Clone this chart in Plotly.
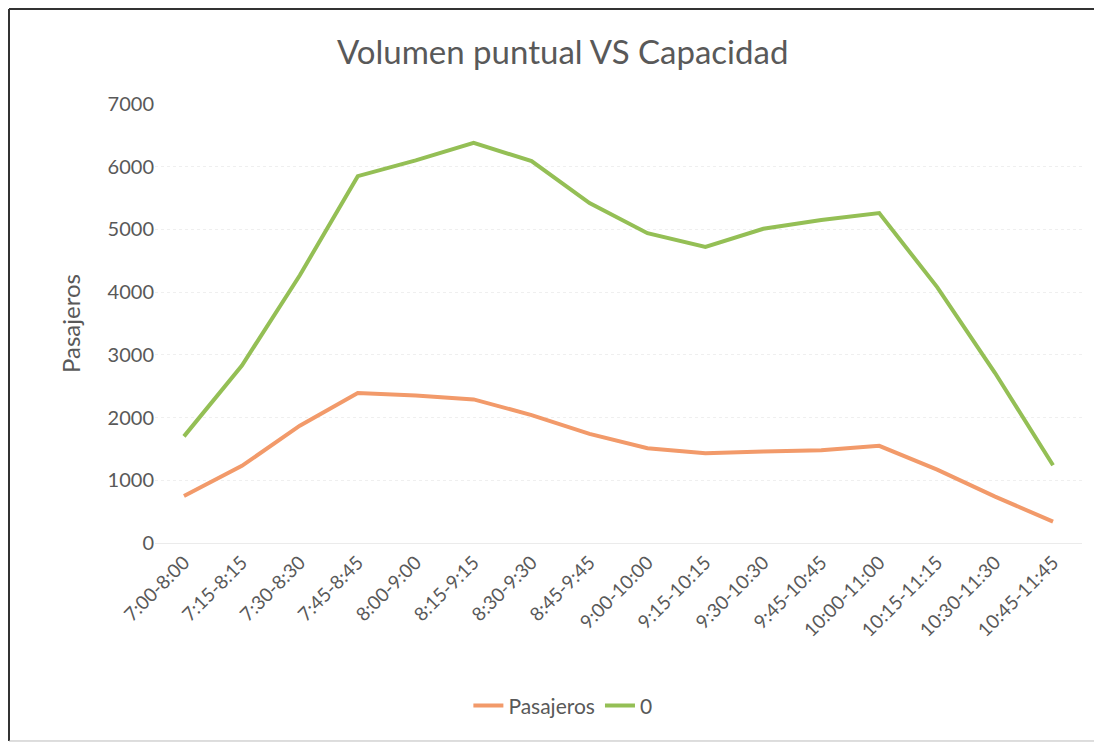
import plotly.graph_objects as go

FRANJAS = ['7:00-8:00', '7:15-8:15', '7:30-8:30', '7:45-8:45', '8:00-9:00',
           '8:15-9:15', '8:30-9:30', '8:45-9:45', '9:00-10:00', '9:15-10:15',
           '9:30-10:30', '9:45-10:45', '10:00-11:00', '10:15-11:15',
           '10:30-11:30', '10:45-11:45']
PASAJEROS = [750, 1230, 1870, 2390, 2350, 2290, 2040, 1740, 1510, 1430,
             1460, 1480, 1550, 1170, 740, 340]
CAPACIDAD = [1700, 2830, 4270, 5850, 6100, 6380, 6090, 5420, 4940, 4720,
             5010, 5150, 5260, 4080, 2710, 1240]
TICKS_Y = [0, 1000, 2000, 3000, 4000, 5000, 6000, 7000]

GRIS = '#595959'
FUENTE = 'Lato'

fig = go.Figure()
fig.add_trace(go.Scatter(x=FRANJAS, y=PASAJEROS, name='Pasajeros', mode='lines',
                         line=dict(color='#F29A6A', width=4)))
fig.add_trace(go.Scatter(x=FRANJAS, y=CAPACIDAD, name='0', mode='lines',
                         line=dict(color='#94BF55', width=4)))

# la página añade 8 px de margen, por eso 1094x737
fig.update_layout(
    width=1094, height=737,
    title=dict(text='Volumen puntual VS Capacidad', x=0.507, xanchor='center',
               y=0.94, yanchor='middle',
               font=dict(family=FUENTE, size=33, color=GRIS)),
    paper_bgcolor='white', plot_bgcolor='white',
    margin=dict(l=147, r=20, t=96, b=202),
    font=dict(family=FUENTE, color=GRIS),
    xaxis=dict(range=[-0.5, 15.5], tickangle=-45, showgrid=False,
               showline=True, linecolor='#ebebeb', linewidth=1,
               tickfont=dict(size=19, color=GRIS), ticks=''),
    yaxis=dict(range=[0, 7000], tickvals=TICKS_Y, showgrid=True,
               gridcolor='#efefef', griddash='dot', zeroline=False,
               tickfont=dict(size=20, color=GRIS), ticks='',
               title=dict(text='Pasajeros', font=dict(size=24, color=GRIS),
                          standoff=20)),
    legend=dict(orientation='h', x=0.44, xanchor='center', y=-0.371,
                yanchor='middle', font=dict(size=21, color=GRIS)),
    showlegend=True,
)

# marco del gráfico
fig.add_shape(type='line', xref='paper', yref='paper',
              x0=-0.1575, x1=1.0205, y0=1.2164, y1=1.2164,
              line=dict(color='#333333', width=2))
fig.add_shape(type='line', xref='paper', yref='paper',
              x0=-0.1575, x1=-0.1575, y0=1.2164, y1=-0.451,
              line=dict(color='#333333', width=2))
fig.add_shape(type='line', xref='paper', yref='paper',
              x0=-0.1575, x1=1.0205, y0=-0.451, y1=-0.451,
              line=dict(color='#bbbbbb', width=1))

fig.write_html("out.html")
